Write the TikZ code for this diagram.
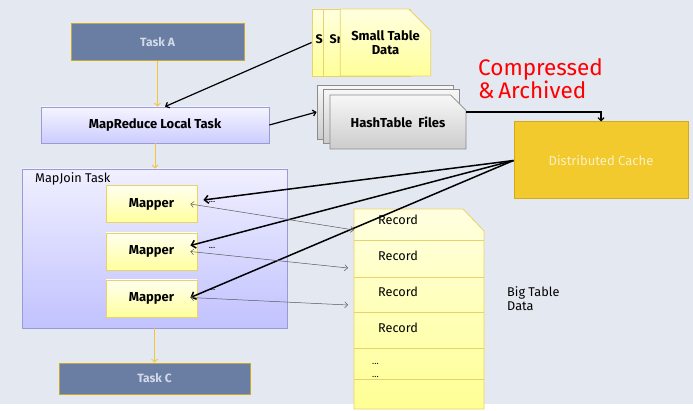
\documentclass[tikz,border=0pt]{standalone}
\usepackage{fontspec}
\setmainfont{Fira Sans}
\usetikzlibrary{shapes.misc}
\usetikzlibrary{arrows.meta}

\definecolor{bg}{HTML}{E4E8F0}
\definecolor{taskblue}{HTML}{6A7EA4}
\definecolor{taskgold}{HTML}{C9A62E}
\definecolor{tasktext}{HTML}{D2D9E8}
\definecolor{lavline}{HTML}{9A9AD6}
\definecolor{cache}{HTML}{F2CA2E}
\definecolor{cacheline}{HTML}{D4AA1C}
\definecolor{cachetext}{HTML}{FAF0C2}
\definecolor{noteline}{HTML}{E9D26A}
\definecolor{flow}{HTML}{F2C63A}

\begin{document}
\begin{tikzpicture}[x=1pt,y=-1pt]
	 \tikzstyle{task}=[draw=taskgold,line width=1pt,fill=taskblue,text=tasktext,inner sep=0pt,font=\fontsize{12}{14}\selectfont\bfseries]
	 \tikzstyle{lavbox}=[draw=lavline,line width=0.8pt,inner sep=0pt]
	 \tikzstyle{mapper}=[draw=noteline,line width=0.8pt,top color=yellow!6,bottom color=yellow!38,minimum width=91pt,minimum height=37pt,inner sep=0pt,font=\fontsize{13}{15}\selectfont\bfseries]
	 \tikzstyle{note}=[chamfered rectangle,chamfered rectangle corners=north east,draw=noteline,line width=0.8pt,inner sep=0pt]
	 \tikzstyle{hashfile}=[note,draw=black!45,top color=black!3,bottom color=black!20,minimum width=136pt,minimum height=54pt,chamfered rectangle xsep=13pt,chamfered rectangle ysep=10pt,font=\fontsize{13}{15}\selectfont\bfseries]
	 \tikzstyle{smallnote}=[note,top color=yellow!12,bottom color=yellow!40,minimum width=87pt,minimum height=67pt,chamfered rectangle xsep=11pt,chamfered rectangle ysep=11pt,align=center,font=\fontsize{13}{14}\selectfont\bfseries]
	 \tikzstyle{flow edge}=[draw=flow,line width=0.8pt,-{Straight Barb[length=3pt,width=6pt]}]
	 \tikzstyle{cache edge}=[draw=black,line width=1.5pt,-{Straight Barb[length=4pt,width=8pt]}]
	 \tikzstyle{record edge}=[draw=black!65,line width=0.5pt,{Straight Barb[length=3pt,width=6pt]}-{Straight Barb[length=3pt,width=6pt]}]
	 \tikzstyle{plain}=[inner sep=0pt,font=\fontsize{12.7}{13.5}\selectfont]
	 \tikzstyle{dots}=[inner sep=0pt,font=\fontsize{9}{9}\selectfont]

	 \fill[bg] (0,0) rectangle (693,404);
	 \fill[white] (0,404) rectangle (693,411);
	 \useasboundingbox (0,0) rectangle (693,411);

	 \node[task,minimum width=173pt,minimum height=37pt] (taskA) at (157.5,42.5) {Task A};
	 \node[lavbox,top color=blue!4,bottom color=blue!20,minimum width=228pt,minimum height=36pt,font=\fontsize{13}{15}\selectfont\bfseries] (local) at (155,125) {MapReduce Local Task};
	 \node[lavbox,top color=blue!6,bottom color=blue!24,minimum width=265pt,minimum height=159pt] (mapjoin) at (154.5,248.5) {};
	 \node[plain,anchor=west] (mapjoinlabel) at (35,179) {MapJoin Task};
	 \node[task,minimum width=191pt,minimum height=31pt] (taskC) at (154.5,378.5) {Task C};

	 \node[mapper] (m1) at (151.5,204) {Mapper};
	 \node[mapper] (m2) at (151.5,251.5) {Mapper};
	 \node[mapper] (m3) at (151.5,298.5) {Mapper};
	 \node[dots] (d1) at (212,202) {...};
	 \node[dots] (d2) at (212,248) {...};
	 \node[dots] (d3) at (212,290) {...};

	 \node[smallnote] (small1) at (355.5,42.5) {};
	 \node[inner sep=0pt,anchor=west,font=\fontsize{12.5}{14}\selectfont\bfseries] (small1text) at (315.5,39) {S};
	 \node[smallnote] (small2) at (366.5,42.5) {};
	 \node[inner sep=0pt,anchor=west,font=\fontsize{12.5}{14}\selectfont\bfseries] (small2text) at (329.5,39) {Sr};
	 \node[smallnote] (small3) at (385.5,42.5) {Small Table\\Data};

	 \node[hashfile] (hash1) at (385,112) {};
	 \node[hashfile] (hash2) at (391,116) {};
	 \node[hashfile] (hash3) at (398,122) {HashTable\ \ Files};

	 \node[text=red,inner sep=0pt,align=left,anchor=north west,font=\fontsize{22.5}{22}\selectfont] (compressed) at (478,58) {Compressed\\\&\,Archived};

	 \node[draw=cacheline,line width=1pt,fill=cache,text=cachetext,minimum width=174pt,minimum height=77pt,font=\fontsize{13}{15}\selectfont] (cache) at (601,160.5) {Distributed Cache};

	 \shade[draw=noteline,line width=0.8pt,top color=yellow!12,bottom color=yellow!42] (354,209) -- (463,209) -- (484,231) -- (484,409) -- (354,409) -- cycle;
	 \foreach \y in {240,277,312,348,379.5}
	 	\draw[noteline,line width=0.7pt] (354,\y) -- (484,\y);
	 \node[plain,anchor=west] (rec1) at (378,220) {Record};
	 \node[plain,anchor=west] (rec2) at (378,256) {Record};
	 \node[plain,anchor=west] (rec3) at (378,292) {Record};
	 \node[plain,anchor=west] (rec4) at (378,328) {Record};
	 \node[dots,anchor=west] (rec5) at (372,364) {...};
	 \node[dots,anchor=west] (rec6) at (372,377) {...};
	 \node[plain,anchor=west,align=left] (bigtablelabel) at (507,298.5) {Big Table\\Data};

	 \coordinate (r1) at (354,230);
	 \coordinate (r2) at (348,268);
	 \coordinate (r3) at (348,305);

	 \draw[flow edge] (taskA) -- (taskA |- local.north);
	 \draw[flow edge] (local) -- (local |- mapjoin.north);
	 \draw[flow edge] (mapjoin) -- (mapjoin |- taskC.north);

	 \draw[draw=black,line width=1.2pt,-{Straight Barb[length=3pt,width=6pt]}] (small1.west) -- ([xshift=10pt]local.north);
	 \draw[draw=black,line width=1.2pt,-{Straight Barb[length=3pt,width=6pt]}] (local.east) -- (hash1.west);
	 \draw[draw=black,line width=1.2pt,-{Straight Barb[length=3pt,width=6pt]}] ([yshift=10pt]hash3.east) -| (cache.north);

	 \draw[cache edge] (cache.west) -- ([xshift=6pt,yshift=4pt]m1.east);
	 \draw[cache edge] (cache.west) -- ([xshift=-7pt,yshift=6pt]m2.east);
	 \draw[cache edge] (cache.west) -- ([xshift=-7pt,yshift=1pt]m3.east);

	 \draw[record edge] ([xshift=-7pt]m1.east) -- (r1);
	 \draw[record edge] ([xshift=-7pt]m2.east) -- (r2);
	 \draw[record edge] ([xshift=-7pt,yshift=1pt]m3.east) -- (r3);
\end{tikzpicture}
\end{document}
